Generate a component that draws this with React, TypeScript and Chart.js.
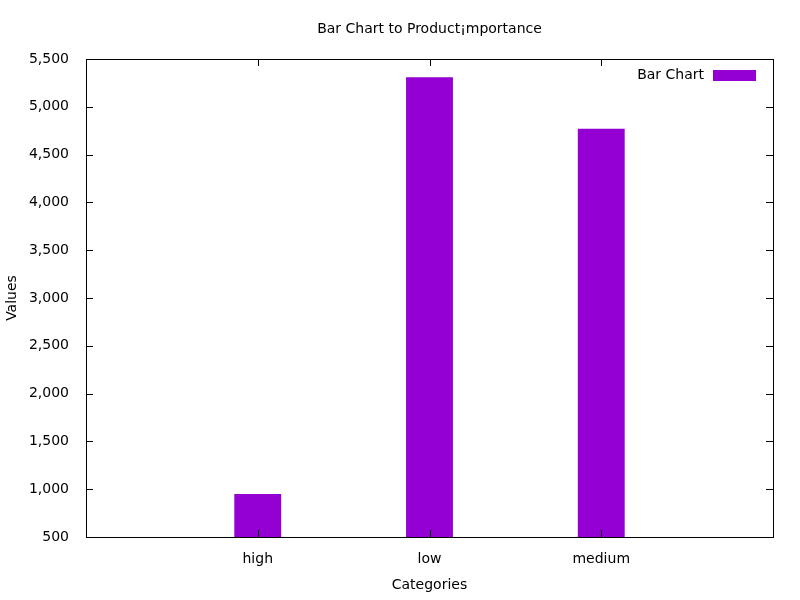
import React, { useEffect, useRef } from "react";
import { Chart, registerables } from "chart.js";
Chart.register(...registerables);

const categories = ["", "high", "low", "medium", ""];
const values = [null, 950, 5310, 4770, null];
const yTicks = [500, 1000, 1500, 2000, 2500, 3000, 3500, 4000, 4500, 5000, 5500];
const FONT = "'DejaVu Sans', sans-serif";
const COLOR = "#9400D3";

const gnuPlugin = {
  id: "gnu",
  afterDraw(chart: any) {
    const { ctx, chartArea: a, scales } = chart;
    ctx.save();
    ctx.strokeStyle = "#000";
    ctx.lineWidth = 1;
    ctx.strokeRect(a.left + 0.5, a.top + 0.5, a.right - a.left, a.bottom - a.top);
    ctx.beginPath();
    for (const v of yTicks) {
      const y = Math.round(scales.y.getPixelForValue(v)) + 0.5;
      ctx.moveTo(a.left, y); ctx.lineTo(a.left + 7, y);
      ctx.moveTo(a.right, y); ctx.lineTo(a.right - 7, y);
    }
    for (let i = 1; i <= 3; i++) {
      const x = Math.round(scales.x.getPixelForValue(i)) + 0.5;
      ctx.moveTo(x, a.bottom); ctx.lineTo(x, a.bottom - 7);
      ctx.moveTo(x, a.top); ctx.lineTo(x, a.top + 7);
    }
    ctx.stroke();
    ctx.fillStyle = "#000";
    ctx.font = `14px ${FONT}`;
    ctx.textAlign = "center";
    ctx.textBaseline = "middle";
    ctx.fillText("Bar Chart to Product\u00a1mportance", (a.left + a.right) / 2, 29);
    ctx.textAlign = "right";
    ctx.fillText("Bar Chart", 704, 75);
    ctx.fillStyle = COLOR;
    ctx.fillRect(713, 70, 43, 11);
    ctx.restore();
  },
};

export default function App() {
  const ref = useRef<HTMLCanvasElement>(null);
  useEffect(() => {
    document.body.style.margin = "0";
    const chart = new Chart(ref.current!, {
      type: "bar",
      data: {
        labels: categories,
        datasets: [{ label: "Bar Chart", data: values as any, backgroundColor: COLOR, categoryPercentage: 1, barPercentage: 0.273 }],
      },
      options: {
        animation: false,
        responsive: false,
        layout: { padding: { top: 59, right: 27, left: 0, bottom: 0 } },
        plugins: { legend: { display: false }, tooltip: { enabled: false } },
        scales: {
          x: {
            offset: false,
            grid: { display: false },
            border: { display: false },
            ticks: { color: "#000", font: { family: FONT, size: 14 }, padding: 6, maxRotation: 0, autoSkip: false },
            title: { display: true, text: "Categories", color: "#000", font: { family: FONT, size: 14 }, padding: { top: 4, bottom: 6 } },
            afterFit: (s: any) => { s.height = 63; },
          },
          y: {
            min: 500, max: 5500,
            grid: { display: false },
            border: { display: false },
            ticks: { stepSize: 500, color: "#000", font: { family: FONT, size: 14 }, padding: 9 },
            title: { display: true, text: "Values", color: "#000", font: { family: FONT, size: 14 }, padding: { top: 4, bottom: 0 } },
            afterFit: (s: any) => { s.width = 86; },
          },
        },
      },
      plugins: [gnuPlugin],
    });
    return () => chart.destroy();
  }, []);
  return <canvas ref={ref} width={800} height={600} style={{ display: "block" }} />;
}
